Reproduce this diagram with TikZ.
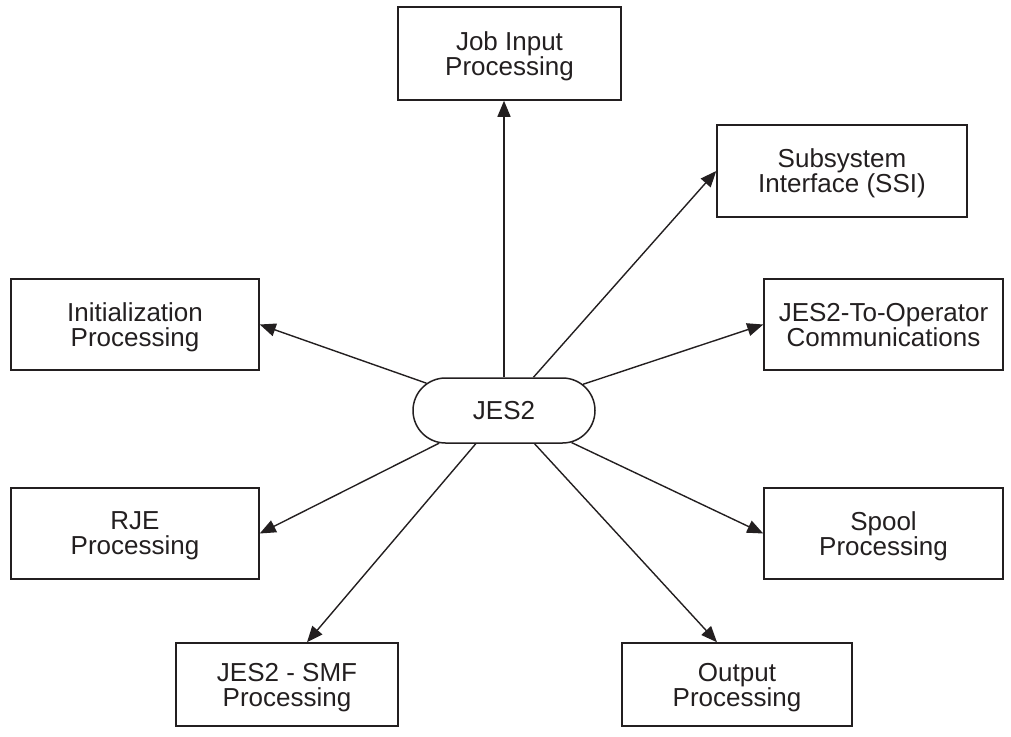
\documentclass[tikz,border=0pt]{standalone}
\usepackage{fontspec}
\setmainfont{Liberation Sans}
\usetikzlibrary{arrows.meta,shapes.misc}
\definecolor{ink}{HTML}{231F20}
\begin{document}
\begin{tikzpicture}[x=1pt,y=-1pt,
  every node/.style={font=\fontsize{26}{25}\selectfont, text=ink},
  box/.style={draw=ink, line width=1.5pt, align=center, inner sep=0pt, text depth=-4pt},
  hub/.style={draw=ink, line width=1.5pt, rounded rectangle, minimum width=182pt, minimum height=65pt, inner sep=0pt},
  link/.style={draw=ink, line width=1.4pt, -{Triangle[length=16pt,width=13pt]}}]
\useasboundingbox (0,0) rectangle (1011,736);
\node[hub] (jes) at (504,410.5) {JES2};
\node[box, minimum width=223pt, minimum height=93pt] (job) at (509.5,53.5) {Job Input\\Processing};
\node[box, minimum width=250pt, minimum height=92pt] (ssi) at (842,171) {Subsystem\\Interface (SSI)};
\node[box, minimum width=248pt, minimum height=91pt] (init) at (135,324.5) {Initialization\\Processing};
\node[box, minimum width=239pt, minimum height=91pt] (oper) at (883.5,324.5) {JES2-To-Operator\\Communications};
\node[box, minimum width=248pt, minimum height=91pt] (rje) at (135,533.5) {RJE\\Processing};
\node[box, minimum width=239pt, minimum height=91pt] (spool) at (883.5,533.5) {Spool\\Processing};
\node[box, minimum width=222pt, minimum height=83pt] (smf) at (287,684.5) {JES2 - SMF\\Processing};
\node[box, minimum width=230pt, minimum height=83pt] (out) at (737,684.5) {Output\\Processing};
\draw[link] (jes.north) -- (jes.north |- job.south);
\draw[link] (jes) -- (ssi.west);
\draw[link] (jes) -- (init.east);
\draw[link] (jes) -- (oper.west);
\draw[link] (jes) -- (rje.east);
\draw[link] (jes) -- (spool.west);
\draw[link] (jes) -- ([xshift=20pt]smf.north);
\draw[link] (jes) -- ([xshift=-20pt]out.north);
\end{tikzpicture}
\end{document}
